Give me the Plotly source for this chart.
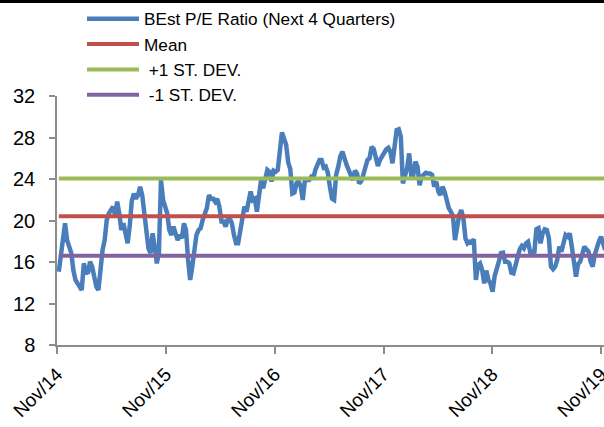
import pandas as pd
import plotly.graph_objects as go

# Weekly Bloomberg estimated forward P/E (next 4 quarters)
pe_values = [
    15.07, 16.4, 18.1, 19.73, 18.1, 17.5, 16.85, 15.2, 14.27, 13.94,
    13.62, 13.30, 15.87, 15.07, 14.9, 16.03, 15.55, 14.27, 13.62, 13.30,
    15.55, 17.16, 18.1, 20.05, 20.69, 21.0, 21.33, 20.5, 21.82, 20.7,
    19.08, 19.73, 18.76, 17.80, 19.41, 21.9, 22.6, 22.1, 22.45, 23.26,
    22.45, 20.69, 18.44, 17.3, 16.85, 18.76, 17.5, 15.87, 16.85, 23.9,
    21.98, 21.2, 20.69, 19.08, 18.6, 19.41, 18.76, 18.12, 18.6, 18.3,
    19.73, 19.08, 16.19, 14.27, 15.55, 17.48, 18.6, 19.08, 19.25, 20.05,
    20.69, 21.2, 22.45, 22.1, 22.1, 21.8, 22.1, 21.33, 19.9, 19.9,
    19.41, 20.05, 20.2, 19.73, 18.6, 17.8, 17.8, 18.9, 19.9, 21.33,
    20.85, 21.8, 22.8, 21.98, 22.1, 20.85, 22.45, 23.9, 23.1, 23.9,
    24.87, 24.7, 23.75, 24.8, 24.7, 24.87, 26.3, 28.47, 27.9, 27.3,
    25.6, 24.95, 22.6, 22.7, 23.6, 23.75, 23.26, 21.98, 23.9, 23.9,
    23.9, 24.2, 24.0, 24.87, 25.5, 25.83, 25.83, 25.1, 25.19, 24.6,
    23.26, 22.1, 21.98, 24.4, 25.19, 26.2, 26.63, 25.77, 25.35, 24.87,
    24.22, 23.9, 24.8, 24.54, 23.58, 23.78, 24.4, 25.19, 25.83, 26.0,
    27.1, 26.9, 25.83, 25.25, 25.83, 26.25, 26.47, 26.86, 27.0, 26.63,
    25.51, 27.1, 28.72, 28.8, 28.08, 23.58, 24.22, 25.03, 26.47, 24.4,
    24.4, 25.67, 25.19, 23.4, 24.22, 24.4, 24.6, 24.54, 24.54, 24.4,
    23.26, 23.75, 22.78, 22.45, 23.26, 22.78, 21.82, 21.2, 20.85, 20.43,
    18.12, 19.73, 20.53, 21.01, 20.2, 18.28, 17.8, 17.96, 17.86, 18.2,
    14.27, 15.7, 15.87, 15.23, 13.94, 15.17, 14.27, 13.94, 13.14, 14.65,
    15.23, 16.03, 16.85, 16.9, 16.03, 16.03, 15.87, 14.97, 14.91, 15.7,
    16.53, 17.22, 17.54, 17.32, 17.80, 17.96, 17.0, 17.0, 16.85, 19.15,
    19.25, 17.8, 18.76, 19.15, 19.08, 18.28, 15.55, 15.3, 15.55, 16.19,
    17.48, 17.0, 17.8, 18.6, 18.44, 18.76, 17.48, 15.87, 14.59, 15.8,
    16.03, 16.74, 17.48, 17.22, 17.0, 16.03, 15.55, 16.69, 17.48, 18.0,
    18.44, 17.7, 17.16,
]
pe_dates = pd.date_range("2014-11-07", periods=len(pe_values), freq="7D")

# Reference levels
mean_pe = 20.4
plus_1sd = 24.05
minus_1sd = 16.6

# Axis ticks
tick_dates = ["2014-11-01", "2015-11-01", "2016-11-01", "2017-11-01", "2018-11-01", "2019-11-01"]
tick_labels = ["Nov/14", "Nov/15", "Nov/16", "Nov/17", "Nov/18", "Nov/19"]
y_ticks = [8, 12, 16, 20, 24, 28, 32]

BLUE = "#4A7EBB"
RED = "#C0504D"
GREEN = "#9BBB59"
PURPLE = "#8064A2"
AXIS_GREY = "#8C8C8C"
FONT = "Liberation Sans, Arial, sans-serif"

span = [pe_dates[0], pe_dates[-1]]

fig = go.Figure()
fig.add_trace(go.Scatter(
    x=pe_dates, y=pe_values, mode="lines",
    name="BEst P/E Ratio (Next 4 Quarters)",
    line=dict(color=BLUE, width=4.5),
))
fig.add_trace(go.Scatter(
    x=span, y=[mean_pe, mean_pe], mode="lines", name="Mean",
    line=dict(color=RED, width=4),
))
fig.add_trace(go.Scatter(
    x=span, y=[plus_1sd, plus_1sd], mode="lines", name=" +1 ST. DEV.",
    line=dict(color=GREEN, width=4),
))
fig.add_trace(go.Scatter(
    x=span, y=[minus_1sd, minus_1sd], mode="lines", name=" -1 ST. DEV.",
    line=dict(color=PURPLE, width=4),
))

fig.update_layout(
    width=604, height=427,
    margin=dict(l=57, r=0, t=96, b=82, autoexpand=False),
    paper_bgcolor="white", plot_bgcolor="white",
    font=dict(family=FONT, color="black", size=17.2),
    showlegend=True,
    legend=dict(
        xref="container", yref="container",
        x=82 / 604, y=1 - 1 / 427, xanchor="left", yanchor="top",
        bgcolor="rgba(0,0,0,0)", borderwidth=0,
        font=dict(family=FONT, size=17.2, color="black"),
        itemwidth=52, tracegroupgap=0,
    ),
    xaxis=dict(
        type="date", range=["2014-11-01", "2019-11-11"],
        tickvals=tick_dates, ticktext=tick_labels, tickangle=-45,
        ticks="outside", ticklen=7, tickwidth=1.5, tickcolor=AXIS_GREY,
        showline=True, linecolor=AXIS_GREY, linewidth=1.5,
        showgrid=False, zeroline=False, automargin=False,
        ticklabeloverflow="allow", ticklabelstandoff=2,
        tickfont=dict(family=FONT, size=19, color="black"),
    ),
    yaxis=dict(
        range=[8, 32], tickvals=y_ticks,
        ticks="outside", ticklen=6, tickwidth=1.5, tickcolor=AXIS_GREY,
        showline=True, linecolor=AXIS_GREY, linewidth=1.5,
        showgrid=False, zeroline=False, automargin=False,
        ticklabelstandoff=10,
        tickfont=dict(family=FONT, size=20, color="black"),
    ),
    shapes=[dict(
        type="rect", xref="paper", yref="paper",
        x0=-0.2, x1=1.2, y0=1 + 93 / 249, y1=1 + 100 / 249,
        fillcolor="black", line=dict(width=0), layer="above",
    )],
)

fig.write_html("out.html")
